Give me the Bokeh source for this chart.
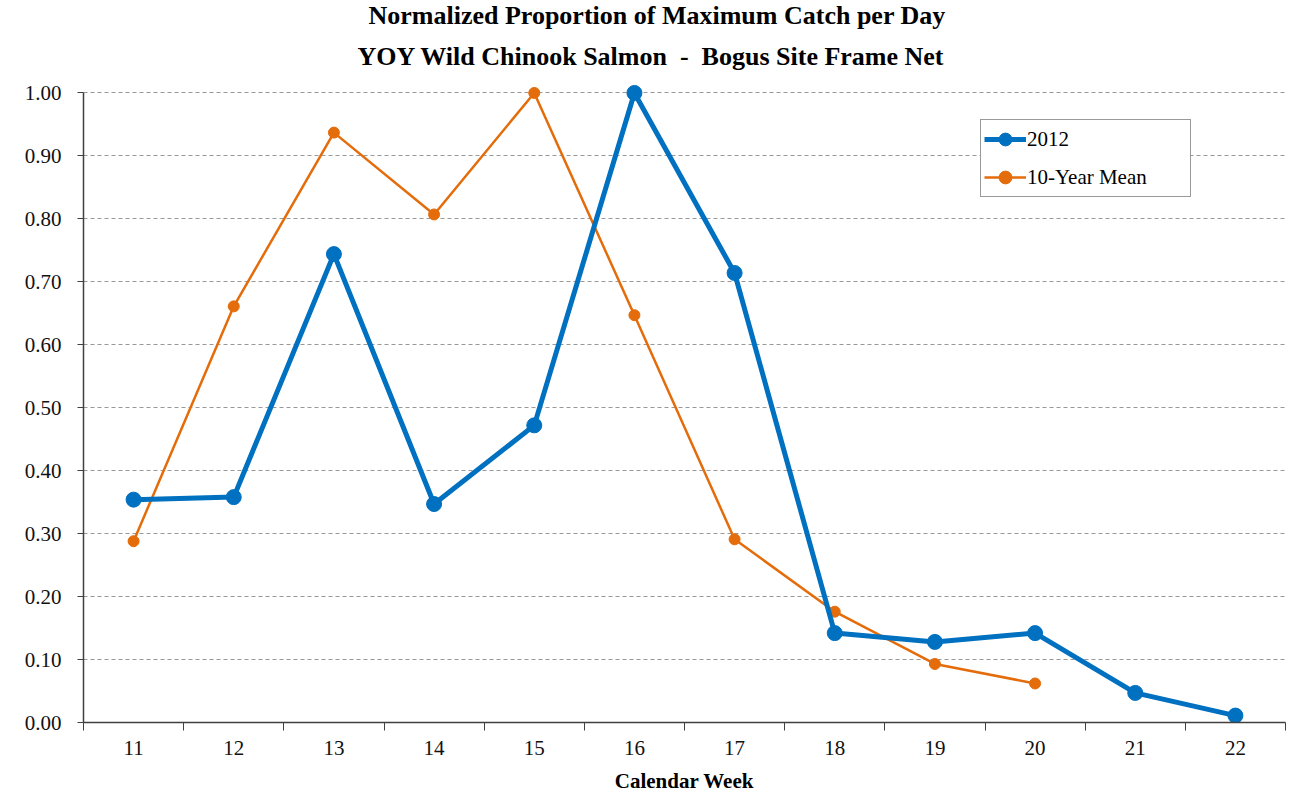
from bokeh.plotting import figure
from bokeh.models import (ColumnDataSource, FixedTicker, Title, Legend, LegendItem,
                          NumeralTickFormatter, Range1d)
from bokeh.embed import file_html
from bokeh.resources import INLINE

weeks = [11, 12, 13, 14, 15, 16, 17, 18, 19, 20, 21, 22]
y2012 = [0.354, 0.358, 0.744, 0.347, 0.472, 1.00, 0.714, 0.142, 0.128, 0.142, 0.047, 0.011]
mean_weeks = [11, 12, 13, 14, 15, 16, 17, 18, 19, 20]
y_mean = [0.288, 0.661, 0.937, 0.807, 1.00, 0.647, 0.291, 0.176, 0.093, 0.062]
y_ticks = [0.0, 0.1, 0.2, 0.3, 0.4, 0.5, 0.6, 0.7, 0.8, 0.9, 1.0]
title_lines = ["Normalized Proportion of Maximum Catch per Day",
               "YOY Wild Chinook Salmon\u00a0\u00a0-\u00a0\u00a0Bogus Site Frame Net"]

BLUE = "#0070C0"
ORANGE = "#E46C0A"
FONT = "Liberation Serif"

p = figure(width=1286, height=798, output_backend="svg", toolbar_location=None,
           x_range=Range1d(weeks[0] - 0.5, weeks[-1] + 0.5),
           y_range=Range1d(0, 1.015),
           min_border_left=83, min_border_right=1, min_border_bottom=76, min_border_top=82)
p.outline_line_color = None
p.background_fill_color = "white"

p.title.text = title_lines[0]
p.title.text_font = FONT
p.title.text_font_size = "26px"
p.title.text_font_style = "bold"
p.title.text_color = "black"
p.title.align = "left"
p.title.offset = 285
p.title.standoff = -4
t2 = Title(text=title_lines[1], text_font=FONT, text_font_size="26px",
           text_font_style="bold", text_color="black", align="left", offset=274,
           standoff=25)
p.add_layout(t2, "above")

# x axis
xa = p.xaxis[0]
xa.ticker = FixedTicker(ticks=weeks, minor_ticks=[w - 0.5 for w in weeks] + [weeks[-1] + 0.5])
xa.major_tick_line_color = None
xa.major_tick_out = 0
xa.major_tick_in = 0
xa.minor_tick_in = 0
xa.minor_tick_out = 8
xa.minor_tick_line_color = "#404040"
xa.axis_line_color = "#404040"
xa.axis_line_width = 1.5
xa.major_label_text_font = FONT
xa.major_label_text_font_size = "21px"
xa.major_label_text_color = "#111111"
xa.major_label_standoff = 10
xa.axis_label = "Calendar Week"
xa.axis_label_text_font = FONT
xa.axis_label_text_font_size = "21px"
xa.axis_label_text_font_style = "bold"
xa.axis_label_text_color = "black"
xa.axis_label_standoff = 11

# y axis
ya = p.yaxis[0]
ya.ticker = FixedTicker(ticks=y_ticks)
ya.bounds = (0, 1.0)
ya.formatter = NumeralTickFormatter(format="0.00")
ya.major_tick_in = 0
ya.major_tick_out = 6
ya.minor_tick_line_color = None
ya.major_tick_line_color = "#404040"
ya.axis_line_color = "#404040"
ya.axis_line_width = 1.5
ya.major_label_text_font = FONT
ya.major_label_text_font_size = "21px"
ya.major_label_text_color = "#111111"
ya.major_label_standoff = 16

p.xgrid.grid_line_color = None
p.ygrid.grid_line_color = "#999999"
p.ygrid.grid_line_dash = "4 3"
p.ygrid.grid_line_width = 1

src1 = ColumnDataSource(dict(x=weeks, y=y2012))
src2 = ColumnDataSource(dict(x=mean_weeks, y=y_mean))

l2 = p.line("x", "y", source=src2, line_color=ORANGE, line_width=2.5)
c2 = p.scatter("x", "y", source=src2, size=11, fill_color=ORANGE, line_color=ORANGE)
l1 = p.line("x", "y", source=src1, line_color=BLUE, line_width=5)
c1 = p.scatter("x", "y", source=src1, size=15, fill_color=BLUE, line_color=BLUE)

legend = Legend(items=[LegendItem(label="2012", renderers=[l1, c1]),
                       LegendItem(label="10-Year Mean", renderers=[l2, c2])],
                location=(897, 525))
legend.label_text_font = FONT
legend.label_text_font_size = "21px"
legend.label_text_color = "black"
legend.border_line_color = "#333333"
legend.border_line_width = 1
legend.glyph_width = 42
legend.glyph_height = 32
legend.label_height = 32
legend.label_width = 160
legend.spacing = 6
legend.padding = 3
legend.margin = 0
legend.label_standoff = 1
legend.background_fill_alpha = 1
p.add_layout(legend, "center")

open("out.html", "w").write(file_html(p, INLINE))
